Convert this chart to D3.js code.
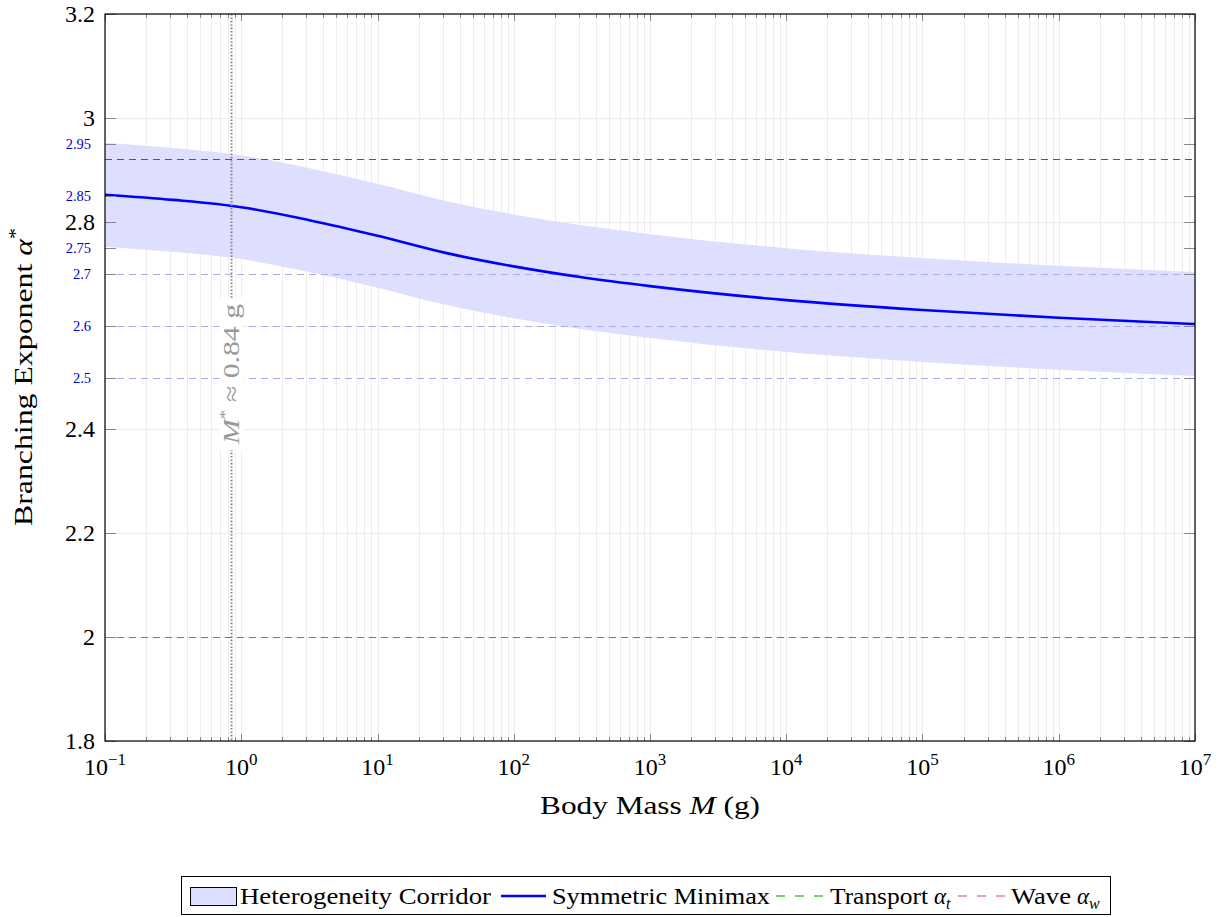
<!DOCTYPE html>
<html><head><meta charset="utf-8">
<script src="https://cdn.jsdelivr.net/npm/d3@7"></script>
<style>body{margin:0;background:#fff}svg{display:block}</style>
</head><body>
<svg id="c" width="1224" height="917"></svg>
<script>
// ---- data ----
const masses   = [0.1, 0.316, 1, 3.16, 10, 31.6, 100, 316, 1000, 1e4, 1e5, 1e6, 1e7];
const minimax  = [2.852, 2.842, 2.828, 2.803, 2.773, 2.740, 2.714, 2.693, 2.676, 2.649, 2.630, 2.615, 2.603];
const corridorLow  = [2.752, 2.742, 2.728, 2.703, 2.673, 2.640, 2.614, 2.593, 2.576, 2.549, 2.530, 2.515, 2.503];
const corridorHigh = [2.952, 2.942, 2.928, 2.903, 2.873, 2.840, 2.814, 2.793, 2.776, 2.749, 2.730, 2.715, 2.703];
const transportAlpha = 2.92;
const waveAlpha = 2.0;
const mStar = 0.84;
const yTicks = [1.8, 2.0, 2.2, 2.4, 2.8, 3.0, 3.2];
const yTickLabels = ["1.8", "2", "2.2", "2.4", "2.8", "3", "3.2"];
const yGrid = [1.8, 2.0, 2.2, 2.4, 2.6, 2.8, 3.0, 3.2];
const extraTicks = [2.95, 2.85, 2.75, 2.7, 2.6, 2.5];
const extraTickLabels = ["2.95", "2.85", "2.75", "2.7", "2.6", "2.5"];
const refLines = [2.7, 2.6, 2.5];
const xDecades = [-1, 0, 1, 2, 3, 4, 5, 6, 7];
const legendLabels = ["Heterogeneity Corridor", "Symmetric Minimax", "Transport", "Wave"];

// ---- layout ----
const L = 105, T = 14, R = 1195, B = 741;
const svg = d3.select("#c");
const font = "'Liberation Serif', 'DejaVu Serif', serif";
const x = d3.scaleLog().domain([0.1, 1e7]).range([L, R]);
const y = d3.scaleLinear().domain([1.8, 3.2]).range([B, T]);
const cr = v => Math.round(v) + 0.5;

// minor positions
const minors = [];
for (let d = -1; d < 7; d++) for (let k = 2; k <= 9; k++) minors.push(k * Math.pow(10, d));

// grid
const g = svg.append("g");
g.selectAll(".vg").data(minors.concat(xDecades.map(d => Math.pow(10, d)))).join("line")
  .attr("x1", d => cr(x(d))).attr("x2", d => cr(x(d))).attr("y1", T).attr("y2", B)
  .attr("stroke", "#ededed").attr("stroke-width", 1);
g.selectAll(".hg").data(yGrid).join("line")
  .attr("x1", L).attr("x2", R).attr("y1", d => cr(y(d))).attr("y2", d => cr(y(d)))
  .attr("stroke", "#ededed").attr("stroke-width", 1);

// corridor band
const band = masses.map((m, i) => ({m, lo: corridorLow[i], hi: corridorHigh[i], v: minimax[i]}));
svg.append("path").datum(band)
  .attr("d", d3.area().x(d => x(d.m)).y0(d => y(d.lo)).y1(d => y(d.hi)).curve(d3.curveMonotoneX))
  .attr("fill", "#dedfff");

// reference dashed lines
svg.selectAll(".ref").data(refLines).join("line")
  .attr("x1", L).attr("x2", R).attr("y1", d => cr(y(d))).attr("y2", d => cr(y(d)))
  .attr("stroke", "#aaaaf0").attr("stroke-width", 1).attr("stroke-dasharray", "7,5");
svg.append("line").attr("x1", L).attr("x2", R).attr("y1", cr(y(transportAlpha))).attr("y2", cr(y(transportAlpha)))
  .attr("stroke", "#009a00").attr("stroke-width", 1.2).attr("stroke-dasharray", "7,5");
svg.append("line").attr("x1", L).attr("x2", R).attr("y1", cr(y(waveAlpha))).attr("y2", cr(y(waveAlpha)))
  .attr("stroke", "#e0407a").attr("stroke-width", 1.2).attr("stroke-dasharray", "7,5");

// minimax curve
svg.append("path").datum(band)
  .attr("d", d3.line().x(d => x(d.m)).y(d => y(d.v)).curve(d3.curveMonotoneX))
  .attr("fill", "none").attr("stroke", "#0000ff").attr("stroke-width", 2.6);

// M* vertical dotted line
const mx = cr(x(mStar));
svg.append("line").attr("x1", mx).attr("x2", mx).attr("y1", T).attr("y2", B)
  .attr("stroke", "#888").attr("stroke-width", 2).attr("stroke-dasharray", "1.6,1.8");
const cy = 374;
svg.append("rect").attr("x", mx - 12).attr("y", cy - 76).attr("width", 24).attr("height", 152).attr("fill", "#fff");
const lt = svg.append("text").attr("transform", `translate(${mx + 7},${cy}) rotate(-90)`)
  .attr("text-anchor", "middle").attr("font-family", font).attr("font-size", 23).attr("fill", "#999")
  .attr("textLength", 140).attr("lengthAdjust", "spacingAndGlyphs");
lt.append("tspan").attr("font-style", "italic").text("M");
lt.append("tspan").attr("font-size", 15).attr("dy", -9).text("*");
lt.append("tspan").attr("dy", 9).text(" ≈ 0.84 g");

// ticks
const tk = svg.append("g").attr("stroke", "#888").attr("stroke-width", 1);
minors.forEach(m => {
  tk.append("line").attr("x1", cr(x(m))).attr("x2", cr(x(m))).attr("y1", B).attr("y2", B - 4);
  tk.append("line").attr("x1", cr(x(m))).attr("x2", cr(x(m))).attr("y1", T).attr("y2", T + 4);
});
xDecades.forEach(d => {
  const m = Math.pow(10, d);
  tk.append("line").attr("x1", cr(x(m))).attr("x2", cr(x(m))).attr("y1", B).attr("y2", B - 7);
  tk.append("line").attr("x1", cr(x(m))).attr("x2", cr(x(m))).attr("y1", T).attr("y2", T + 7);
});
yTicks.concat(extraTicks).forEach(v => {
  tk.append("line").attr("x1", L).attr("x2", L + 11).attr("y1", cr(y(v))).attr("y2", cr(y(v)));
  tk.append("line").attr("x1", R).attr("x2", R - 11).attr("y1", cr(y(v))).attr("y2", cr(y(v)));
});

// frame
svg.append("rect").attr("x", L).attr("y", T).attr("width", R - L).attr("height", B - T)
  .attr("fill", "none").attr("stroke", "#000").attr("stroke-width", 1.2);

// y tick labels
svg.selectAll(".yl").data(yTicks).join("text")
  .attr("x", 95).attr("y", d => y(d) + 8).attr("text-anchor", "end")
  .attr("font-family", font).attr("font-size", 24).attr("fill", "#000")
  .text((d, i) => yTickLabels[i]);
svg.selectAll(".yx").data(extraTicks).join("text")
  .attr("x", 91).attr("y", d => y(d) + 5).attr("text-anchor", "end")
  .attr("font-family", font).attr("font-size", 14.5).attr("fill", "#0000cc")
  .text((d, i) => extraTickLabels[i]);

// x tick labels
xDecades.forEach(d => {
  const t = svg.append("text").attr("x", x(Math.pow(10, d))).attr("y", 775)
    .attr("text-anchor", "middle").attr("font-family", font).attr("font-size", 24).attr("fill", "#000");
  t.append("tspan").text("10");
  t.append("tspan").attr("font-size", 17).attr("dy", -10).text(d < 0 ? "−" + Math.abs(d) : String(d));
});

// axis titles
const xt = svg.append("text").attr("x", 650).attr("y", 814).attr("text-anchor", "middle")
  .attr("font-family", font).attr("font-size", 26).attr("fill", "#000")
  .attr("textLength", 220).attr("lengthAdjust", "spacingAndGlyphs");
xt.append("tspan").text("Body Mass ");
xt.append("tspan").attr("font-style", "italic").text("M");
xt.append("tspan").text(" (g)");
const yt = svg.append("text").attr("transform", "translate(32,377) rotate(-90)").attr("text-anchor", "middle")
  .attr("font-family", font).attr("font-size", 26).attr("fill", "#000")
  .attr("textLength", 298).attr("lengthAdjust", "spacingAndGlyphs");
yt.append("tspan").text("Branching Exponent ");
yt.append("tspan").attr("font-style", "italic").text("α");
yt.append("tspan").attr("font-size", 18).attr("dy", -10).text("*");

// legend
const lg = svg.append("g");
lg.append("rect").attr("x", 181.5).attr("y", 876.5).attr("width", 929).attr("height", 38)
  .attr("fill", "#fff").attr("stroke", "#000").attr("stroke-width", 1);
lg.append("rect").attr("x", 190.5).attr("y", 887.5).attr("width", 46).attr("height", 18)
  .attr("fill", "#dedfff").attr("stroke", "#000").attr("stroke-width", 1);
function ltxt(xp, label, len, sub) {
  const t = lg.append("text").attr("x", xp).attr("y", 904)
    .attr("font-family", font).attr("font-size", 23).attr("fill", "#000");
  t.append("tspan").attr("textLength", len).attr("lengthAdjust", "spacingAndGlyphs").text(label);
  if (sub) {
    t.append("tspan").attr("dx", 6).attr("font-style", "italic").text("α");
    t.append("tspan").attr("font-style", "italic").attr("font-size", 16).attr("dy", 5).text(sub);
  }
}
ltxt(240, legendLabels[0], 251);
lg.append("line").attr("x1", 501).attr("x2", 546).attr("y1", 896).attr("y2", 896).attr("stroke", "#0000ff").attr("stroke-width", 2.6);
ltxt(552, legendLabels[1], 218);
lg.append("line").attr("x1", 776).attr("x2", 824).attr("y1", 896).attr("y2", 896).attr("stroke", "#009a00").attr("stroke-width", 1.2).attr("stroke-dasharray", "9,10");
ltxt(830, legendLabels[2], 98, "t");
lg.append("line").attr("x1", 958).attr("x2", 1006).attr("y1", 896).attr("y2", 896).attr("stroke", "#e0407a").attr("stroke-width", 1.2).attr("stroke-dasharray", "9,10");
ltxt(1011, legendLabels[3], 60, "w");
</script>
</body></html>
